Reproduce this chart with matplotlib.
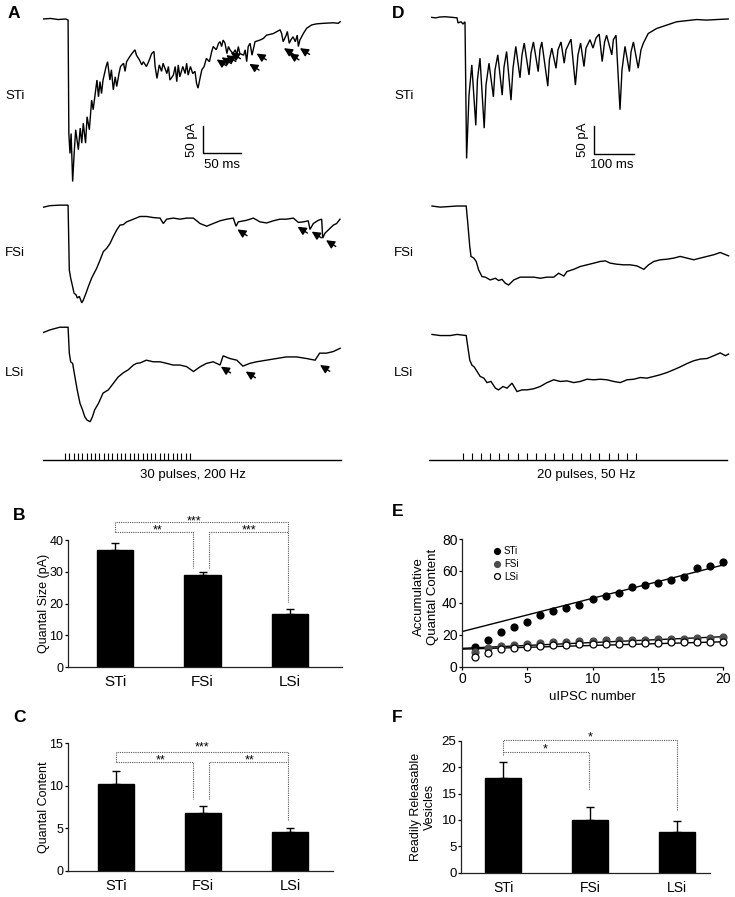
import numpy as np
import matplotlib
matplotlib.use("Agg")
import matplotlib.pyplot as plt

plt.rcParams['font.family'] = ['Liberation Sans', 'DejaVu Sans']

# ---------------- data ----------------
# Panel A traces: (time ms, current pA), 200 Hz train
A_STI = [(0,0),(10,1),(20,-1),(30,0),(33,-2),(34,-212),(35.5,-249),(37,-212),(39,-301),(41,-249),(43,-205),(46.5,-242),(49,-202),(51,-230),(53,-193),(56,-230),(58,-181),(61,-205),(64,-150),(66,-168),(71,-113),(73,-144),(75,-116),(77,-138),(79,-113),(83,-88),(85,-79),(88,-113),(90,-94),(92.5,-131),(95,-107),(97,-125),(100,-101),(102,-88),(106,-82),(108,-97),(110,-79),(114,-70),(117,-64),(121,-57),(123,-67),(127,-76),(130,-85),(132,-79),(136,-88),(139,-79),(143,-64),(146,-60),(147.5,-88),(150,-110),(153,-85),(156,-97),(158,-82),(163,-101),(165,-88),(167,-113),(171.5,-104),(174,-88),(176,-116),(178,-85),(180,-107),(184,-88),(187,-101),(189,-82),(191,-104),(194,-88),(197,-101),(200,-97),(202,-119),(204,-128),(207,-107),(209,-94),(212,-88),(215,-73),(219,-79),(222,-60),(224,-51),(228,-57),(231,-45),(233,-42),(235,-51),(237,-39),(239.5,-45),(242,-64),(244,-51),(246,-57),(250,-64),(253,-57),(255,-67),(257,-51),(259,-64),(264,-67),(266,-57),(268,-79),(270,-51),(272.5,-45),(275,-67),(279,-42),(285.5,-39),(290,-36),(294,-30),(303,-27),(312,-20),(314,-27),(316,-42),(320,-30),(321.5,-23),(324,-45),(326,-39),(329,-33),(332,-42),(334.5,-30),(336,-51),(338,-39),(342.5,-27),(347,-17),(353.5,-11),(360,-9),(369,-8),(382,-7),(388.5,-8),(391,-5)]
A_FSI = [(0,-3),(9,0),(22,1),(33,1),(34.6,-119),(36.4,-134),(39,-150),(40.8,-162),(43.4,-165),(45.2,-171),(47.8,-168),(51,-180),(53,-175),(56.6,-162),(59.6,-150),(64,-134),(68.4,-122),(70.6,-116),(75,-101),(79.4,-85),(83.8,-79),(88.2,-70),(92.5,-57),(97,-45),(101.3,-36),(105.7,-35),(110,-30),(119,-25),(127.6,-20),(136.4,-20),(145,-22),(154,-23),(158.3,-33),(162.7,-25),(171.5,-23),(180.3,-25),(189,-23),(197.8,-23),(206.6,-33),(215.4,-38),(224,-33),(233,-28),(241.7,-25),(250.4,-23),(254,-38),(257,-30),(268,-27),(276.8,-23),(285.5,-30),(294.3,-32),(303,-28),(311.8,-25),(320.6,-25),(329.4,-23),(336,-31),(342.5,-30),(349,-28),(351.3,-44),(355.7,-33),(362.3,-27),(366.7,-25),(368,-60),(371,-51),(377.6,-42),(382,-36),(386.4,-33),(390.8,-25)]
A_LSI = [(0,-11),(9,-6),(22,-1),(33,-1),(34.6,-49),(36.4,-65),(39,-68),(42,-93),(45,-117),(48.7,-142),(52,-154),(55,-167),(58,-173),(62,-176),(65,-167),(68,-154),(73,-142),(79,-123),(86,-117),(92.5,-105),(99,-93),(106,-85),(112,-80),(119,-71),(123,-68),(128,-67),(136,-62),(145,-65),(154,-65),(163,-68),(171,-71),(180,-71),(189,-74),(198,-83),(207,-74),(215,-68),(224,-65),(233,-71),(237,-54),(246,-59),(255,-62),(263,-73),(272,-68),(281,-65),(294,-62),(307,-59),(320,-56),(334,-56),(347,-59),(358,-62),(364,-49),(373,-49),(382,-46),(391,-40)]
# arrows marking asynchronous events (time ms, current pA)
A_STI_EVENTS = [(228.5,-75),(235,-71),(241,-67),(247,-62),(271.5,-83),(281,-64),(317,-54),(324,-64),(338,-54)]
A_FSI_EVENTS = [(255.7,-44),(335,-39),(353.5,-48),(372.4,-64)]
A_LSI_EVENTS = [(234,-74),(266.7,-83),(364.5,-71)]

# Panel D traces: 50 Hz train
D_STI = [(0,0),(12,-1),(22,0.5),(35,1),(52,0),(65,-1),(67.5,-10),(75,-8),(80,-12),(85,-8),(89,-252),(95,-139),(102,-85),(112,-193),(116,-112),(122.5,-73),(133,-198),(137.5,-121),(145,-82),(156,-142),(160,-94),(167,-67),(178,-139),(182.5,-89),(189,-61),(200,-148),(205,-91),(212,-52),(222.5,-108),(227.5,-67),(233,-46),(245,-103),(250,-64),(256,-44),(268,-97),(272.5,-58),(277,-44),(292,-123),(296,-76),(302,-55),(312.5,-91),(317.5,-58),(325,-44),(333,-82),(337.5,-58),(350,-39),(361,-121),(367.5,-67),(374,-46),(382.5,-88),(387.5,-55),(397.5,-40),(405,-55),(412.5,-37),(420.5,-30),(428,-79),(434,-44),(439,-32),(452,-67),(456,-40),(462.5,-32),(472.5,-165),(477.5,-94),(485,-52),(496,-97),(500,-62),(506,-44),(518,-91),(525,-58),(531,-46),(543,-29),(564,-20),(589,-14),(614,-8),(639,-6),(664,-4),(689,-5),(714,-4),(743,-3)]
D_FSI = [(2.5,0),(23,-2),(44,-1),(65,0),(88,0),(92,-31),(97,-73),(100,-90),(107,-93),(113,-99),(119,-114),(127.5,-126),(136,-127),(148,-132),(161,-129),(169,-133),(177.5,-131),(186,-138),(194,-141),(207,-132),(223,-127),(240,-127),(257,-127),(273,-129),(290,-127),(307,-127),(319,-120),(332,-125),(340,-117),(357,-113),(373,-108),(390,-105),(407,-102),(423,-99),(436,-98),(448,-102),(465,-104),(482,-105),(498,-105),(515,-107),(532,-113),(544,-105),(557,-99),(573,-96),(590,-95),(607,-93),(623,-90),(640,-93),(657,-96),(673,-93),(690,-90),(707,-87),(723,-83),(744,-89)]
D_LSI = [(2.5,1),(23,-1),(48,-1),(65,1),(88,-1),(92,-21),(97,-45),(102.5,-54),(108,-57),(115,-65),(123,-74),(132,-77),(140,-85),(150,-83),(161,-95),(169,-98),(180,-92),(190,-95),(202.5,-86),(215,-101),(227.5,-98),(240,-98),(257,-96),(273,-92),(290,-85),(307,-80),(323,-83),(340,-82),(357,-85),(373,-83),(390,-79),(407,-80),(423,-79),(440,-80),(457,-83),(473,-85),(490,-80),(507,-79),(523,-76),(540,-77),(557,-74),(573,-71),(590,-67),(607,-62),(623,-57),(640,-51),(657,-46),(673,-43),(690,-42),(707,-37),(723,-32),(736,-37),(744,-34)]

GROUPS = ['STi', 'FSi', 'LSi']
# Panel B: quantal size (pA)
QSIZE = [36.7, 28.9, 16.6]
QSIZE_SEM = [2.4, 0.9, 1.7]
# Panel C: quantal content
QCONT = [10.2, 6.8, 4.6]
QCONT_SEM = [1.5, 0.8, 0.45]
# Panel F: readily releasable vesicles
RRV = [18.0, 10.0, 7.8]
RRV_SEM = [2.9, 2.5, 1.9]

# Panel E: accumulative quantal content vs uIPSC number
UIPSC_N = list(range(1, 21))
E_STI = [12.2, 16.5, 21.9, 24.6, 28.2, 32.4, 35.1, 36.6, 38.6, 42.2, 44.3, 46.4, 50.1, 51.2, 52.2, 54.3, 56.0, 61.6, 63.1, 65.8]
E_FSI = [9.5, 12.0, 12.8, 13.6, 14.5, 15.0, 15.2, 15.5, 15.8, 16.0, 16.5, 16.6, 17.0, 17.0, 17.2, 17.5, 17.5, 17.8, 18.0, 18.5]
E_LSI = [6.3, 8.5, 10.8, 11.7, 12.5, 13.0, 13.5, 13.8, 14.0, 14.0, 14.2, 14.5, 14.8, 15.0, 15.0, 15.2, 15.2, 15.3, 15.5, 15.5]
FIT_INTERCEPT = [22.0, 11.5, 11.0]
FIT_SLOPE = [2.085, 0.365, 0.23]

# stimulus trains
A_N_PULSES, A_FREQ = 30, 200
D_N_PULSES, D_FREQ = 20, 50

# ---------------- figure ----------------
W, H = 735, 897
fig = plt.figure(figsize=(W/100, H/100), dpi=100)


def px_axes(x0, y0, x1, y1):
    return fig.add_axes([x0/W, 1 - y1/H, (x1 - x0)/W, (y1 - y0)/H])


def ftext(x, y, s, **kw):
    kw.setdefault('ha', 'center')
    kw.setdefault('va', 'center')
    return fig.text(x/W, 1 - y/H, s, **kw)


# ---- trace panels ----
def draw_trace(ax, data, offset, events=()):
    t = np.array([p[0] for p in data])
    i = np.array([p[1] for p in data])
    ax.plot(t, i + offset, color='black', lw=1.0, solid_joinstyle='miter')
    for (et, ei) in events:
        ax.annotate('', xy=(et, ei + offset), xytext=(7, -4.5), textcoords='offset points',
                    arrowprops=dict(arrowstyle='-|>,head_length=0.5,head_width=0.25',
                                    color='black', lw=1.0, shrinkA=0, shrinkB=0))


TFS = 9.5

# Panel A
axA = px_axes(43, 0, 343, 440)
axA.set_xlim(0, 300/0.76)
axA.set_ylim(-(440 - 19)/0.54, 19/0.54)
axA.axis('off')
draw_trace(axA, A_STI, 0, A_STI_EVENTS)
draw_trace(axA, A_FSI, -345.7, A_FSI_EVENTS)
draw_trace(axA, A_LSI, -569.8, A_LSI_EVENTS)
axA.plot([210.5, 210.5, 260.5], [-198, -248, -248], color='black', lw=1.0)
axA.text(196.5, -223, '50 pA', rotation=90, ha='center', va='center', fontsize=TFS)
axA.text(235.5, -270, '50 ms', ha='center', va='center', fontsize=TFS)

# Panel D
axD = px_axes(431, 0, 731, 440)
axD.set_xlim(0, 750)
axD.set_ylim(-(440 - 17.3)/0.56, 17.3/0.56)
axD.axis('off')
draw_trace(axD, D_STI, 0)
draw_trace(axD, D_FSI, -337)
draw_trace(axD, D_LSI, -567.3)
axD.plot([406.7, 406.7, 506.7], [-194, -244, -244], color='black', lw=1.0)
axD.text(380, -219, '50 pA', rotation=90, ha='center', va='center', fontsize=TFS)
axD.text(452.5, -264, '100 ms', ha='center', va='center', fontsize=TFS)


# stimulus trains
def draw_train(x0, x1, px_per_ms, first_ms, n, freq):
    ax = px_axes(x0, 445, x0 + 300, 465)
    ax.set_xlim(0, 300/px_per_ms)
    ax.set_ylim(0, 1)
    ax.axis('off')
    times = first_ms + np.arange(n) * 1000.0/freq
    ax.plot([0, (x1 - x0)/px_per_ms], [0.25, 0.25], color='black', lw=1.0)
    ax.vlines(times, 0.25, 0.62, color='black', lw=0.8)
    return ax


draw_train(43, 341, 0.862, 25.5, A_N_PULSES, A_FREQ)
ftext(193, 475, '%d pulses, %d Hz' % (A_N_PULSES, A_FREQ), fontsize=TFS)
draw_train(429, 727, 0.455, 74.7, D_N_PULSES, D_FREQ)
ftext(586, 475, '%d pulses, %d Hz' % (D_N_PULSES, D_FREQ), fontsize=TFS)

# trace labels
for x in (5, 394):
    ftext(x, 96, 'STi', ha='left', fontsize=TFS)
    ftext(x, 253, 'FSi', ha='left', fontsize=TFS)
    ftext(x, 373, 'LSi', ha='left', fontsize=TFS)

# panel letters
for (x, y, s) in [(13.5, 13, 'A'), (398, 13, 'D'), (19, 515, 'B'), (19, 717, 'C'), (398, 512, 'E'), (397, 717, 'F')]:
    ftext(x, y, s, fontsize=12.5, fontweight='bold')


# ---- bar panels ----
def style_axes(ax, labelsize):
    ax.tick_params(axis='y', direction='out', length=2.5, width=0.9, pad=0.8, labelsize=labelsize)
    for s in ('top', 'right'):
        ax.spines[s].set_visible(False)
    for s in ('left', 'bottom'):
        ax.spines[s].set_linewidth(0.9)
        ax.spines[s].set_color('#222222')


def bar_panel(rect, vals, sems, xlim, ylim, yticks, ylabel, ylab_x, width, xfs, yfs):
    ax = px_axes(*rect)
    x = np.arange(len(vals))
    ax.bar(x, vals, width=width, color='black', edgecolor='black', zorder=2)
    ax.errorbar(x, vals, yerr=[np.zeros(len(vals)), sems], fmt='none', ecolor='black',
                elinewidth=1.0, capsize=3, capthick=1.0, zorder=1)
    ax.set_xlim(*xlim)
    ax.set_ylim(*ylim)
    ax.set_yticks(yticks)
    ax.set_xticks(x)
    ax.set_xticklabels(GROUPS, fontsize=xfs)
    style_axes(ax, yfs)
    ax.tick_params(axis='x', length=0, pad=6)
    ax.set_ylabel(ylabel, fontsize=9, va='center', ha='center')
    ax.yaxis.set_label_coords(ylab_x, 0.5)
    return ax


DOT = dict(color='#555555', lw=0.8, linestyle=(0, (1, 1)), clip_on=False)


def bracket(ax, pts):
    ax.plot([p[0] for p in pts], [p[1] for p in pts], **DOT)


def star(ax, x, y, s, fs=9):
    ax.text(x, y, s, ha='center', va='center', fontsize=fs, clip_on=False)


# B
axB = bar_panel((68, 540, 342, 667), QSIZE, QSIZE_SEM, (-0.537, 2.594), (0, 40), [0, 10, 20, 30, 40],
                'Quantal Size (pA)', -0.0876, 0.42, 11, 9)
bracket(axB, [(0, 42.4), (0, 45.8), (1.98, 45.8), (1.98, 20.6)])
bracket(axB, [(0, 42.4), (0.895, 42.4), (0.895, 31.2)])
bracket(axB, [(1.078, 31.2), (1.078, 42.4), (1.98, 42.4)])
star(axB, 0.9, 46.0, '***')
star(axB, 0.486, 42.9, '**')
star(axB, 1.53, 42.9, '***')

# C
axC = bar_panel((68, 743.3, 333, 870.7), QCONT, QCONT_SEM, (-0.552, 2.494), (0, 15), [0, 5, 10, 15],
                'Quantal Content', -0.0906, 0.414, 10.5, 9)
bracket(axC, [(0, 12.8), (0, 14.0), (1.98, 14.0), (1.98, 5.9)])
bracket(axC, [(0, 12.8), (0.89, 12.8), (0.89, 8.4)])
bracket(axC, [(1.07, 8.4), (1.07, 12.8), (1.98, 12.8)])
star(axC, 0.985, 14.5, '***')
star(axC, 0.517, 12.95, '**')
star(axC, 1.54, 12.95, '**')

# F
axF = bar_panel((461, 740.7, 710, 872.7), RRV, RRV_SEM, (-0.483, 2.379), (0, 25), [0, 5, 10, 15, 20, 25],
                'Readily Releasable\nVesicles', -0.152, 0.414, 10, 9.5)
bracket(axF, [(0, 22.3), (0, 25.1), (2.0, 25.1), (2.0, 11.9)])
bracket(axF, [(0, 22.9), (0.99, 22.9), (0.99, 15.8)])
star(axF, 1.0, 25.6, '*')
star(axF, 0.48, 23.4, '*')

# E
axE = px_axes(462, 539, 723, 666.7)
n = np.array(UIPSC_N)
styles = [dict(mfc='black', mec='black'),
          dict(mfc='#4d4d4d', mec='#4d4d4d'),
          dict(mfc='white', mec='black')]
xx = np.array([0, 20])
for k in range(3):
    axE.plot(xx, FIT_INTERCEPT[k] + FIT_SLOPE[k]*xx, color='black', lw=1.0, zorder=2)
handles = []
for k, (yv, st) in enumerate(zip([E_STI, E_FSI, E_LSI], styles)):
    h, = axE.plot(n, yv, 'o', ms=5, mfc=st['mfc'], mec=st['mec'], mew=0.9, clip_on=False, zorder=3,
                  label=GROUPS[k])
    handles.append(h)
axE.set_xlim(0, 20)
axE.set_ylim(0, 80)
axE.set_xticks([0, 5, 10, 15, 20])
axE.set_yticks([0, 20, 40, 60, 80])
style_axes(axE, 10)
axE.tick_params(axis='x', direction='out', length=2.5, width=0.9, pad=1.5, labelsize=10)
axE.set_ylabel('Accumulative\nQuantal Content', fontsize=9.5, va='center', ha='center')
axE.yaxis.set_label_coords(-0.138, 0.55)
axE.set_xlabel('uIPSC number', fontsize=9.5, va='center')
axE.xaxis.set_label_coords(0.5, -0.237)
axE.legend(handles=handles, loc='upper left', bbox_to_anchor=(0.119, 0.945), frameon=False,
           fontsize=7, handlelength=0.8, handletextpad=0.3, labelspacing=0.3, borderpad=0,
           borderaxespad=0, markerscale=0.85)

fig.savefig('out.png', dpi=100)
